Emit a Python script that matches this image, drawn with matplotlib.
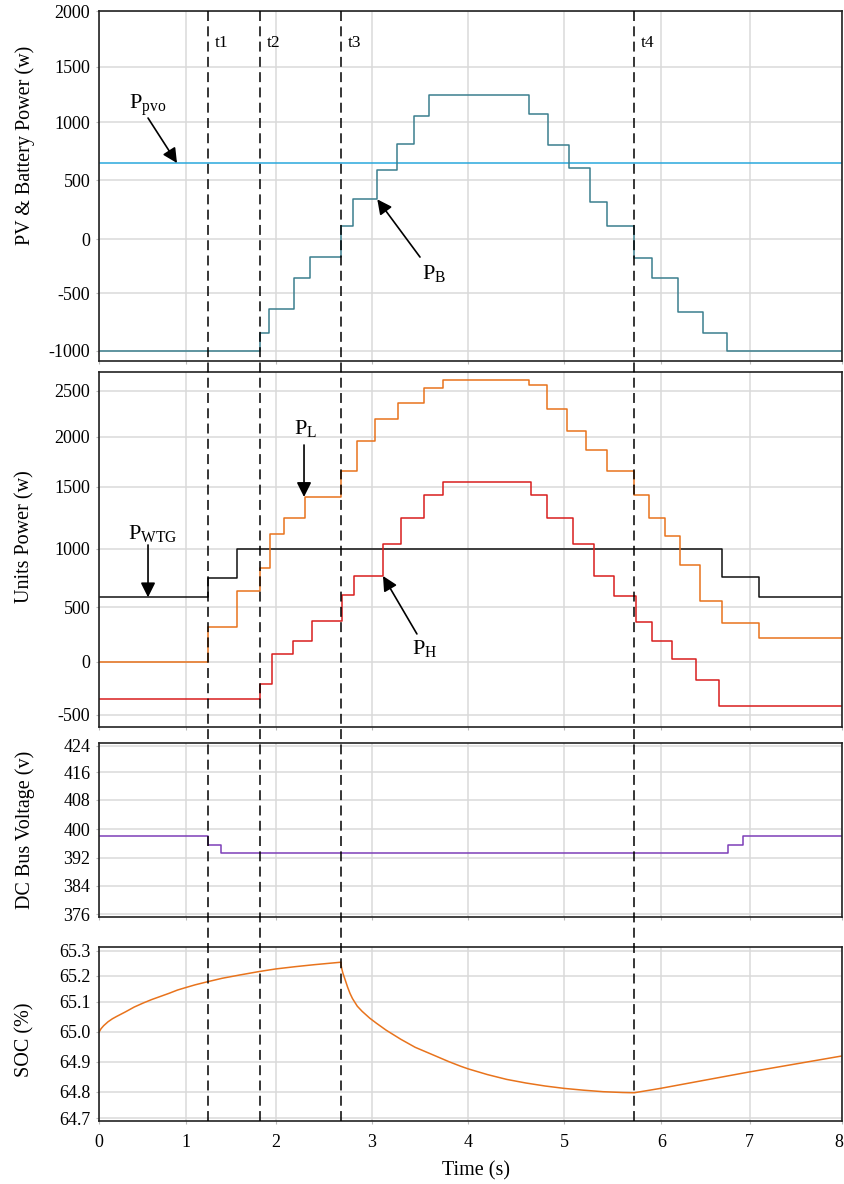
import numpy as np
import matplotlib
matplotlib.use("Agg")
import matplotlib.pyplot as plt
from matplotlib import transforms
from matplotlib.lines import Line2D

# ---------------------------------------------------------------- data
# event instants (s)
events = [1.24, 1.82, 2.68, 5.72]
event_names = ["t1", "t2", "t3", "t4"]

# PV output reference (W)
ppvo_w = 648

# battery power, step changes (start time s, level W)
pb_t = [0, 1.82, 1.93, 2.19, 2.354, 2.68, 2.805, 3.058, 3.262, 3.441, 3.593,
        4.632, 4.827, 5.045, 5.262, 5.44, 5.72, 5.901, 6.189, 6.472, 6.744, 8]
pb_w = [-1000, -848, -639, -356, -166, 113, 338, 586, 809, 1054, 1241,
        1075, 800, 603, 318, 113, -172, -356, -663, -843, -1000, -1000]

# wind turbine power
wtg_t = [0, 1.24, 1.564, 6.69, 7.098, 8]
wtg_w = [585, 747, 1000, 761, 585, 585]

# load power
load_t = [0, 1.24, 1.564, 1.82, 1.936, 2.083, 2.302, 2.68, 2.844, 3.034, 3.276,
          3.545, 3.735, 4.632, 4.816, 5.031, 5.227, 5.443, 5.72, 5.873, 6.038,
          6.211, 6.434, 6.69, 7.098, 8]
load_w = [0, 316, 639, 833, 1121, 1245, 1417, 1660, 1957, 2192, 2363,
          2526, 2616, 2559, 2304, 2059, 1867, 1660, 1433, 1248, 1105,
          861, 551, 358, 218, 218]

# household power
ph_t = [0, 1.82, 1.96, 2.18, 2.378, 2.69, 2.816, 3.114, 3.3, 3.54, 3.735,
        4.65, 4.816, 5.09, 5.303, 5.515, 5.736, 5.904, 6.12, 6.389, 6.653, 8]
ph_w = [-350, -209, 71, 193, 377, 605, 770, 1038, 1245, 1431, 1547,
        1433, 1248, 1038, 767, 594, 365, 190, 22, -172, -416, -416]

# DC bus voltage (V)
vdc_t = [0, 1.24, 1.39, 6.75, 6.92, 8]
vdc_v = [398.0, 395.5, 393.4, 395.5, 398.0, 398.0]

# battery state of charge (%)
soc_t = [0, 0.02, 0.05, 0.1, 0.15, 0.2, 0.3, 0.4, 0.5, 0.6, 0.7, 0.8, 0.9,
         1.0, 1.1, 1.24, 1.4, 1.6, 1.82, 2.0, 2.2, 2.4, 2.68,
         2.682, 2.69, 2.70, 2.72, 2.75, 2.774, 2.8, 2.85, 2.9, 2.98, 3.05,
         3.15, 3.3, 3.45, 3.64, 3.8, 3.92, 4.0, 4.2, 4.4, 4.6, 4.8, 5.0, 5.2,
         5.4, 5.6, 5.72, 5.99, 6.98, 8.0]
soc_p = [65.0, 65.010, 65.020, 65.033, 65.043, 65.051, 65.066, 65.082, 65.095,
         65.108, 65.120, 65.132, 65.145, 65.155, 65.165, 65.177, 65.190,
         65.203, 65.217, 65.227, 65.236, 65.244, 65.254,
         65.240, 65.225, 65.210, 65.188, 65.155, 65.132, 65.112, 65.085,
         65.068, 65.045, 65.028, 65.005, 64.975, 64.948, 64.922, 64.900,
         64.885, 64.876, 64.857, 64.841, 64.829, 64.819, 64.811, 64.805,
         64.800, 64.797, 64.796, 64.811, 64.865, 64.919]

# axis ticks
x_ticks = [0, 1, 2, 3, 4, 5, 6, 7, 8]
p1_ticks = [-1000, -500, 0, 500, 1000, 1500, 2000]
p2_ticks = [-500, 0, 500, 1000, 1500, 2000, 2500]
p3_ticks = [376, 384, 392, 400, 408, 416, 424]
p4_ticks = [64.7, 64.8, 64.9, 65.0, 65.1, 65.2, 65.3]

# ---------------------------------------------------------------- layout
W, H = 845, 1184
LEFT, RIGHT = 99.3, 841.7
panel_px = [(11.0, 361.3), (372.3, 726.7), (743.3, 917.3), (946.7, 1120.7)]

# screen positions of tick marks (pixels), used by the piecewise axis scales
x_tick_px = [99.3, 186.3, 275.7, 371.7, 468.3, 564.3, 661.3, 749.7, 841.7]
p1_tick_px = [350.7, 293.3, 239.0, 180.3, 122.0, 66.7, 11.0]
p2_tick_px = [715.0, 661.7, 607.3, 548.7, 486.7, 436.7, 390.7]
p3_tick_px = [914.0, 885.7, 857.7, 829.0, 800.0, 772.3, 745.7]
p4_tick_px = [1118.3, 1091.7, 1061.7, 1031.7, 1001.7, 975.7, 950.7]

C_PB = "#3b7f8e"
C_PV = "#2aa8dc"
C_LOAD = "#e8731c"
C_PH = "#d81e1e"
C_WTG = "#111111"
C_VDC = "#7d3fb8"
C_SOC = "#e8731c"
C_GRID = "#dadada"

plt.rcParams.update({
    "font.family": ["Liberation Serif", "DejaVu Serif"],
    "mathtext.fontset": "custom",
    "mathtext.rm": "Liberation Serif",
    "mathtext.it": "Liberation Serif:italic",
    "mathtext.bf": "Liberation Serif:bold",
    "font.size": 13,
})


def piecewise(vals, pos):
    vals = np.asarray(vals, float)
    pos = np.asarray(pos, float)

    def _map(v, a, b):
        v = np.asarray(v, float)
        out = np.interp(v, a, b)
        lo = (b[1] - b[0]) / (a[1] - a[0])
        hi = (b[-1] - b[-2]) / (a[-1] - a[-2])
        out = np.where(v < a[0], b[0] + (v - a[0]) * lo, out)
        out = np.where(v > a[-1], b[-1] + (v - a[-1]) * hi, out)
        return out

    return (lambda v: _map(v, vals, pos)), (lambda p: _map(p, pos, vals))


fig = plt.figure(figsize=(W / 100, H / 100), dpi=100)
axes = []
for top, bot in panel_px:
    ax = fig.add_axes([LEFT / W, 1 - bot / H, (RIGHT - LEFT) / W, (bot - top) / H])
    axes.append(ax)
ax1, ax2, ax3, ax4 = axes

y_specs = [
    (ax1, p1_ticks, p1_tick_px, (-1092, 2000), [str(v) for v in p1_ticks],
     "PV & Battery Power (w)", 0.615),
    (ax2, p2_ticks, p2_tick_px, (-610, 2700), [str(v) for v in p2_ticks],
     "Units Power (w)", 0.537),
    (ax3, p3_ticks, p3_tick_px, (375.07, 424.72), [str(v) for v in p3_ticks],
     "DC Bus Voltage (v)", 0.5),
    (ax4, p4_ticks, p4_tick_px, (64.691, 65.316), ["%.1f" % v for v in p4_ticks],
     "SOC (%)", 0.464),
]

for ax, ticks, tpx, lim, labels, ylabel, ly in y_specs:
    ax.set_xscale("function", functions=piecewise(x_ticks, x_tick_px))
    ax.set_yscale("function", functions=piecewise(ticks, [-p for p in tpx]))
    ax.set_xlim(0, 8)
    ax.set_ylim(*lim)
    ax.set_xticks(x_ticks)
    ax.set_yticks(ticks, labels)
    ax.grid(True, color=C_GRID, lw=1.1)
    ax.set_axisbelow(True)
    for s in ax.spines.values():
        s.set_linewidth(1.2)
        s.set_color("#222222")
    ax.tick_params(axis="both", length=2.5, color="#bbbbbb", labelsize=13,
                   pad=4)
    ax.set_ylabel(ylabel, fontsize=14.5, va="center")
    ax.yaxis.set_label_coords((25 - LEFT) / (RIGHT - LEFT), ly)
    if ax is not ax4:
        ax.tick_params(axis="x", labelbottom=False)
ax4.tick_params(axis="x", pad=7)

lw = 1.1
# panel 1: PV and battery
ax1.axhline(ppvo_w, color=C_PV, lw=lw)
ax1.step(pb_t, pb_w, where="post", color=C_PB, lw=lw)

# panel 2: units
ax2.step(wtg_t, wtg_w, where="post", color=C_WTG, lw=lw)
ax2.step(load_t, load_w, where="post", color=C_LOAD, lw=lw)
ax2.step(ph_t, ph_w, where="post", color=C_PH, lw=lw)

# panel 3: DC bus
ax3.step(vdc_t, vdc_v, where="post", color=C_VDC, lw=lw)

# panel 4: SOC
ax4.plot(soc_t, soc_p, color=C_SOC, lw=lw)

ax4.set_xlabel("Time (s)", fontsize=14.5, va="center")
ax4.xaxis.set_label_coords((476 - LEFT) / (RIGHT - LEFT), (1120.7 - 1171) / 174)

# event markers across all panels
tr = transforms.blended_transform_factory(ax4.transData, fig.transFigure)
for t in events:
    fig.add_artist(Line2D([t, t], [1 - panel_px[3][1] / H, 1 - panel_px[0][0] / H],
                          transform=tr, color="black", lw=1.1,
                          dashes=(6.5, 3.5), zorder=5))
for t, name in zip(events, event_names):
    ax1.annotate(name, xy=(t, 1713), xytext=(5, 0), textcoords="offset points",
                 ha="left", va="center", fontsize=12.5)

arrow = dict(arrowstyle="-|>", mutation_scale=22, lw=1.2, color="black",
             shrinkA=0, shrinkB=0)
lab_fs = 16

ax1.text(0.56, 1150, r"$\mathrm{P}_{\mathrm{pvo}}$", ha="center", va="center",
         fontsize=lab_fs)
ax1.annotate("", xy=(0.893, ppvo_w), xytext=(0.56, 1036), arrowprops=arrow)
ax1.text(3.65, -313, r"$\mathrm{P}_{\mathrm{B}}$", ha="center", va="center",
         fontsize=lab_fs)
ax1.annotate("", xy=(3.058, 338), xytext=(3.5, -166), arrowprops=arrow)

ax2.text(0.617, 1119, r"$\mathrm{P}_{\mathrm{WTG}}$", ha="center", va="center",
         fontsize=lab_fs)
ax2.annotate("", xy=(0.56, 585), xytext=(0.56, 1030), arrowprops=arrow)
ax2.text(2.307, 2084, r"$\mathrm{P}_{\mathrm{L}}$", ha="center", va="center",
         fontsize=lab_fs)
ax2.annotate("", xy=(2.295, 1417), xytext=(2.295, 1917), arrowprops=arrow)
ax2.text(3.55, 117, r"$\mathrm{P}_{\mathrm{H}}$", ha="center", va="center",
         fontsize=lab_fs)
ax2.annotate("", xy=(3.117, 767), xytext=(3.468, 255), arrowprops=arrow)

# keep the last time label inside the canvas
last = ax4.xaxis.get_major_ticks()[-1].label1
last.set_transform(last.get_transform()
                   + transforms.ScaledTranslation(-2.5 / 100, 0, fig.dpi_scale_trans))

fig.savefig("out.png", dpi=100)
